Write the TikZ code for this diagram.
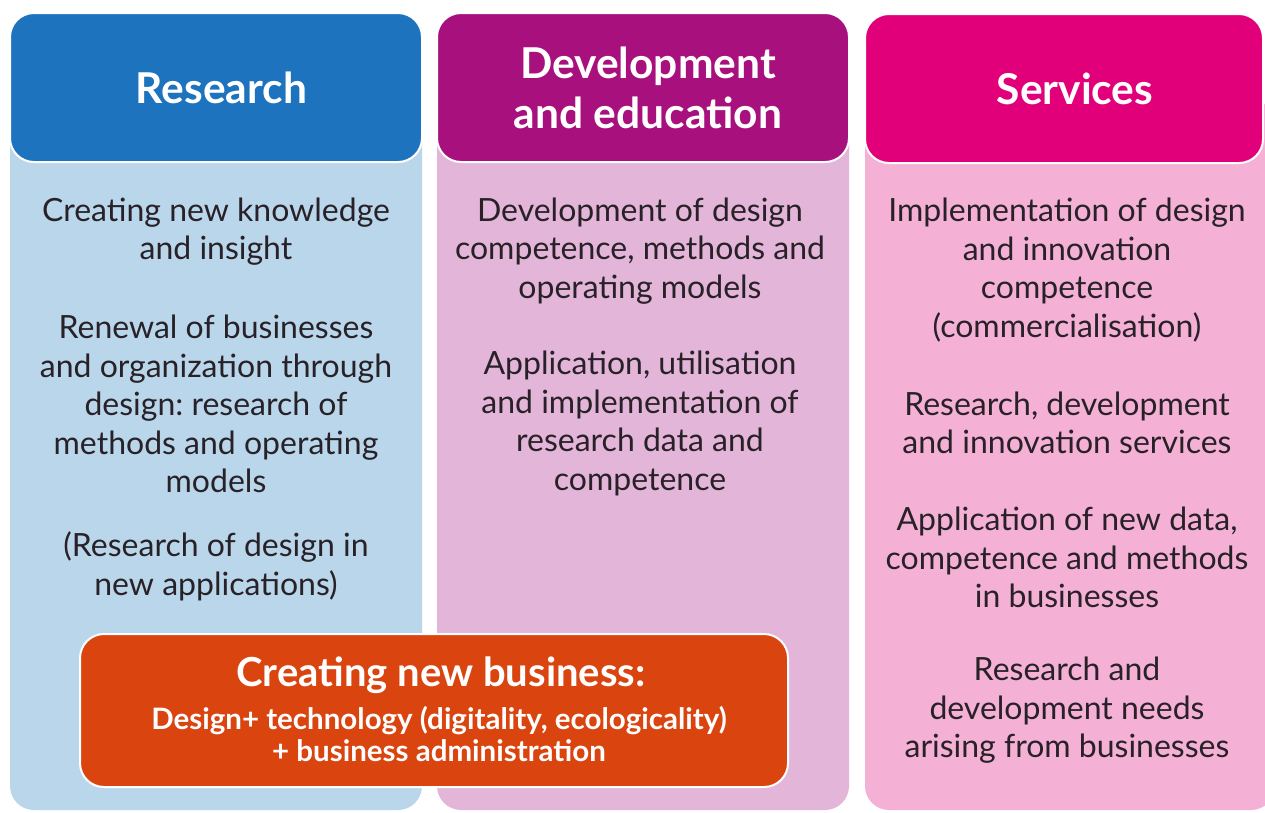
\documentclass[tikz,border=0pt]{standalone}
\usepackage{fontspec}
\setmainfont{Lato}
\frenchspacing
\definecolor{resblue}{RGB}{30,115,190}
\definecolor{resbody}{RGB}{186,214,235}
\definecolor{devpurple}{RGB}{168,17,125}
\definecolor{devbody}{RGB}{227,181,216}
\definecolor{servpink}{RGB}{226,0,122}
\definecolor{servbody}{RGB}{245,176,214}
\definecolor{bizorange}{RGB}{217,68,15}
\definecolor{bodytext}{RGB}{40,34,40}
\begin{document}
\begin{tikzpicture}[x=1pt,y=-1pt,
  head/.style={draw=white,line width=2pt,rounded corners=24pt,text=white,align=center,
    font=\fontsize{42.5}{50}\selectfont\bfseries,minimum width=412pt,minimum height=149pt,inner sep=0pt},
  txt/.style={align=center,text=bodytext,font=\fontsize{32}{38.5}\selectfont,inner sep=0pt}]
\useasboundingbox (0,0) rectangle (1265,812);
\fill[white] (0,0) rectangle (1265,812);

% column bodies
\fill[resbody,rounded corners=24pt] (10,100) rectangle (422,810);
\fill[devbody,rounded corners=24pt] (437,100) rectangle (849,810);
\fill[servbody,rounded corners=24pt] (865,100) rectangle (1275,810);

% headers
\node[head,fill=resblue] (research) at (216,87.5) {\hspace*{11pt}Research};
\node[head,fill=devpurple] (devedu) at (643,87.5) {\hspace*{10pt}Development\\\hspace*{10pt}and education};
\node[head,fill=servpink,minimum width=398pt] (services) at (1064,88.5) {\hspace*{22pt}Services};

% research column
\node[txt] (r1) at (216,231.5) {Creating new knowledge\\and insight};
\node[txt] (r2) at (216,404) {Renewal of businesses\\and organization through\\design: research of\\methods and operating\\models};
\node[txt] (r3) at (216,566.5) {(Research of design in\\new applications)};

% development column
\node[txt] (d1) at (640,251) {Development of design\\competence, methods and\\operating models};
\node[txt] (d2) at (640,423.5) {Application, utilisation\\and implementation of\\research data and\\competence};

% services column
\node[txt] (s1) at (1067,270) {Implementation of design\\and innovation\\competence\\(commercialisation)};
\node[txt] (s2) at (1067,423) {Research, development\\and innovation services};
\node[txt] (s3) at (1067,557.5) {Application of new data,\\competence and methods\\in businesses};
\node[txt] (s4) at (1067,710.5) {Research and\\development needs\\arising from businesses};

% new business box
\node[draw=white,line width=2pt,fill=bizorange,rounded corners=24pt,
  minimum width=708pt,minimum height=153pt] (biz) at (434,710.5) {};
\node[text=white,font=\fontsize{40}{46}\selectfont\bfseries] (biztitle) at (441,675) {Creating new business:};
\node[text=white,align=center,font=\fontsize{29.5}{32}\selectfont\bfseries] (bizsub) at (439,734)
  {Design+ technology (digitality, ecologicality)\\+ business administration};
\end{tikzpicture}
\end{document}
